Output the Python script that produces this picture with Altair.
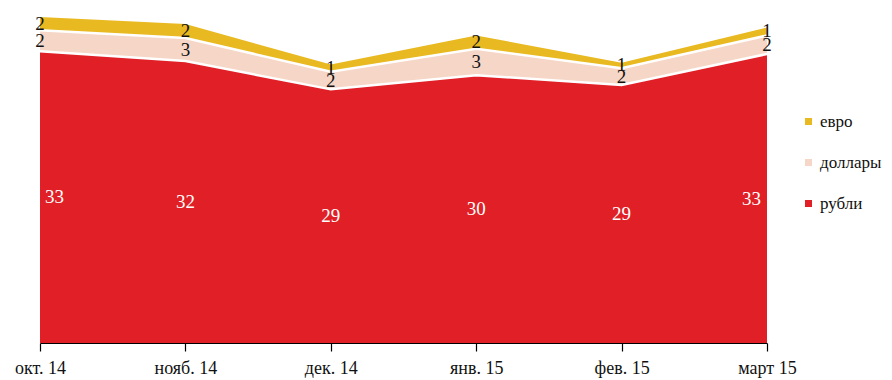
import altair as alt
import pandas as pd

months = ["окт. 14", "нояб. 14", "дек. 14", "янв. 15", "фев. 15", "март 15"]
rubles = [33.0, 31.9, 28.7, 30.3, 29.2, 32.7]
dollars = [2.4, 2.6, 2.0, 3.0, 1.9, 2.1]
euros = [1.5, 1.6, 0.8, 1.5, 0.6, 0.9]

series_names = ["евро", "доллары", "рубли"]
series_colors = ["#E8B920", "#F6D6C6", "#E01F26"]

rows = []
for i, m in enumerate(months):
    base = 0.0
    for name, vals in (("рубли", rubles), ("доллары", dollars), ("евро", euros)):
        v = vals[i]
        rows.append({"month": m, "idx": i, "series": name, "value": v,
                     "y0": base, "y1": base + v, "mid": base + v / 2})
        base += v
df = pd.DataFrame(rows)

x_enc = alt.X("month:O", sort=months,
              scale=alt.Scale(type="point", padding=0),
              axis=alt.Axis(title=None, labelAngle=0))
y_scale = alt.Scale(domain=[0, 37])

areas = alt.Chart(df).mark_area(interpolate="linear", opacity=1).encode(
    x=x_enc,
    y=alt.Y("y1:Q", scale=y_scale, axis=None),
    y2="y0:Q",
    color=alt.Color("series:N",
                    scale=alt.Scale(domain=series_names, range=series_colors),
                    sort=series_names,
                    legend=alt.Legend(title=None, orient="none", legendX=760, legendY=97,
                                      symbolType="square", symbolSize=49,
                                      labelFontSize=17, labelFont="Liberation Sans Narrow",
                                      labelColor="#111", rowPadding=23, labelOffset=3,
                                      labelLimit=200)),
)

lines = alt.Chart(df).transform_filter(
    alt.FieldOneOfPredicate(field="series", oneOf=["рубли", "доллары"])
).mark_line(color="white", strokeWidth=2.5).encode(
    x=alt.X("month:O", sort=months, scale=alt.Scale(type="point", padding=0)),
    y=alt.Y("y1:Q", scale=y_scale),
    detail="series:N",
)

def text_layer(filt, color, **kw):
    return alt.Chart(df).transform_filter(filt).mark_text(
        fontSize=19, font="Liberation Sans Narrow", color=color, baseline="middle", **kw
    ).encode(
        x=alt.X("month:O", sort=months, scale=alt.Scale(type="point", padding=0)),
        y=alt.Y("mid:Q", scale=y_scale),
        text=alt.Text("value:Q", format=".0f"),
    )

rub_mid = text_layer("datum.series == 'рубли' && datum.idx > 0 && datum.idx < 5", "white")
rub_first = text_layer("datum.series == 'рубли' && datum.idx == 0", "white", align="left", dx=5)
rub_last = text_layer("datum.series == 'рубли' && datum.idx == 5", "white", align="right", dx=-6)
other = text_layer("datum.series != 'рубли'", "#111")

chart = alt.layer(areas, lines, rub_mid, rub_first, rub_last, other).properties(
    width=727, height=327,
    autosize=alt.AutoSizeParams(type="none"),
    padding={"left": 32, "top": 8, "right": 117, "bottom": 40},
).configure_view(stroke=None).configure_axis(
    labelFont="Liberation Sans Narrow", labelFontSize=18, labelColor="#111",
    domainColor="#000", tickColor="#000", tickSize=8, labelPadding=8,
    domainWidth=1.2, tickWidth=1.2, grid=False,
)

chart.save("out.html", embed_options={"renderer": "svg", "actions": False})
